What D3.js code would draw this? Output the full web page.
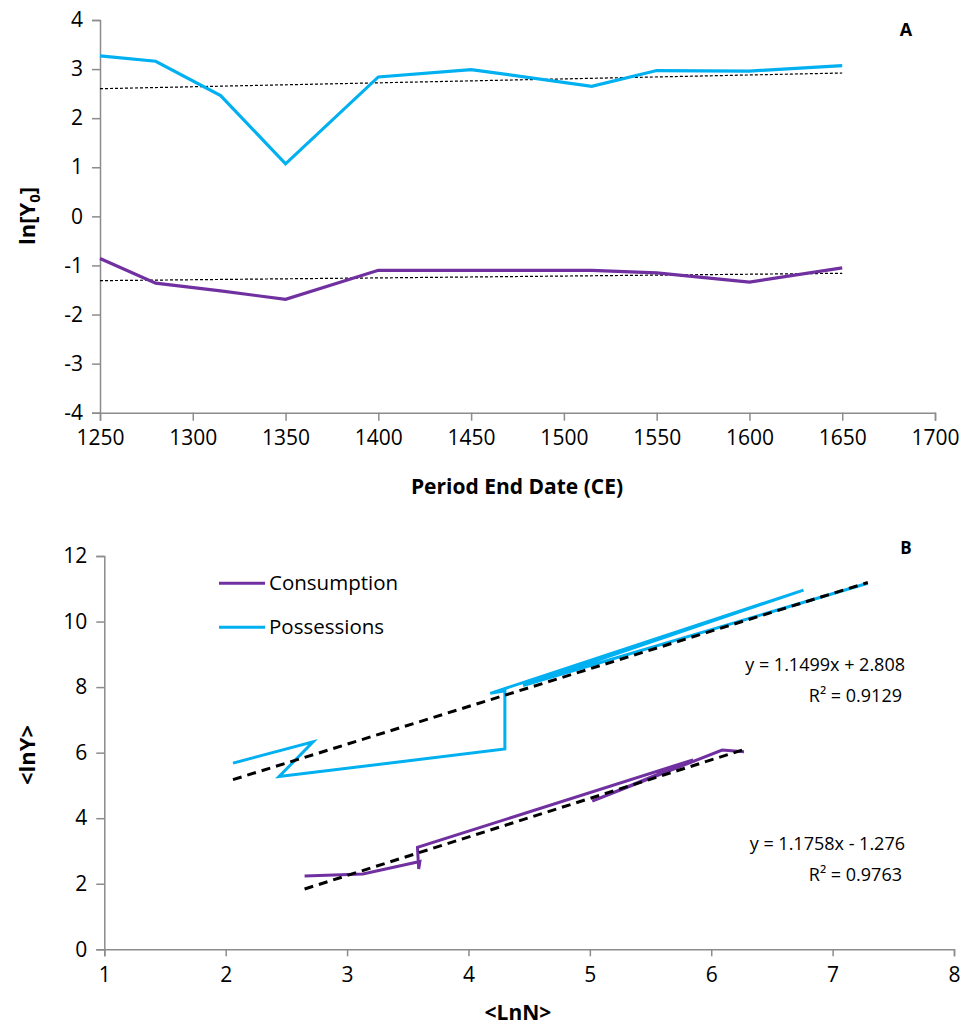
<!DOCTYPE html>
<html>
<head>
<meta charset="utf-8">
<script src="https://cdn.jsdelivr.net/npm/d3@7"></script>
<style>
  body { margin: 0; background: #fff; }
  text { font-family: "Open Sans", "Noto Sans", sans-serif; fill: #000; }
</style>
</head>
<body>
<script>
// Panel A: ln[Y0] by period end date
var yearsA = [1250, 1280, 1315, 1350, 1400, 1450, 1515, 1550, 1600, 1650];
var possessionsA = [3.27, 3.16, 2.46, 1.07, 2.84, 2.99, 2.65, 2.97, 2.96, 3.07];
var consumptionA = [-0.86, -1.36, -1.52, -1.69, -1.10, -1.10, -1.10, -1.15, -1.34, -1.05];
var trendYearsA = [1250, 1650];
var possTrendA = [2.60, 2.92];
var consTrendA = [-1.31, -1.16];
var xTicksA = [1250, 1300, 1350, 1400, 1450, 1500, 1550, 1600, 1650, 1700];
var yTicksA = [-4, -3, -2, -1, 0, 1, 2, 3, 4];

// Panel B: <lnY> vs <LnN>
var possLnN = [2.06, 2.72, 2.44, 4.30, 4.30, 4.18, 6.76, 4.45, 7.29];
var possLnY = [5.68, 6.33, 5.27, 6.11, 7.89, 7.81, 10.96, 8.05, 11.17];
var consLnN = [2.65, 3.13, 3.60, 3.59, 3.58, 5.85, 5.02, 6.09, 6.27];
var consLnY = [2.24, 2.30, 2.68, 2.45, 3.11, 5.78, 4.52, 6.08, 6.03];
var possFit = { slope: 1.1499, intercept: 2.808, r2: 0.9129 };
var consFit = { slope: 1.1758, intercept: -1.276, r2: 0.9763 };
var xTicksB = [1, 2, 3, 4, 5, 6, 7, 8];
var yTicksB = [0, 2, 4, 6, 8, 10, 12];
var seriesNames = ["Consumption", "Possessions"];

var blue = "#00B0F0", purple = "#7030A0", axisGrey = "#8c8c8c";
var plain = function(d) { return String(d); };

var svg = d3.select("body").append("svg")
  .attr("width", 961)
  .attr("height", 1030);

// ---------- Panel A ----------
var xA = d3.scaleLinear().domain([1250, 1700]).range([100, 935]);
var yA = d3.scaleLinear().domain([-4, 4]).range([412.7, 20]);

var axA = svg.append("g");
axA.append("g")
  .attr("transform", "translate(0," + yA(-4) + ")")
  .call(d3.axisBottom(xA).tickValues(xTicksA).tickSize(8).tickPadding(9).tickFormat(plain));
axA.append("g")
  .attr("transform", "translate(" + xA(1250) + ",0)")
  .call(d3.axisLeft(yA).tickValues(yTicksA).tickSize(8).tickPadding(9).tickFormat(plain));

var lineA = d3.line().x(function(d) { return xA(d[0]); }).y(function(d) { return yA(d[1]); });

svg.append("path")
  .attr("d", lineA(d3.zip(trendYearsA, possTrendA)))
  .attr("fill", "none").attr("stroke", "#000").attr("stroke-width", 1.2)
  .attr("stroke-dasharray", "3,2");
svg.append("path")
  .attr("d", lineA(d3.zip(trendYearsA, consTrendA)))
  .attr("fill", "none").attr("stroke", "#000").attr("stroke-width", 1.2)
  .attr("stroke-dasharray", "3,2");

svg.append("path")
  .attr("d", lineA(d3.zip(yearsA, possessionsA)))
  .attr("fill", "none").attr("stroke", blue).attr("stroke-width", 3.2);
svg.append("path")
  .attr("d", lineA(d3.zip(yearsA, consumptionA)))
  .attr("fill", "none").attr("stroke", purple).attr("stroke-width", 3.2);

svg.append("text")
  .attr("x", 517).attr("y", 494)
  .attr("text-anchor", "middle")
  .style("font-size", "21px").style("font-weight", "bold")
  .text("Period End Date (CE)");

var ylabA = svg.append("text")
  .attr("transform", "translate(35,216) rotate(-90)")
  .attr("text-anchor", "middle")
  .style("font-size", "22px").style("font-weight", "bold");
ylabA.append("tspan").text("ln[Y");
ylabA.append("tspan").attr("dy", 5).style("font-size", "15px").text("0");
ylabA.append("tspan").attr("dy", -5).text("]");

svg.append("text")
  .attr("x", 906).attr("y", 36)
  .attr("text-anchor", "middle")
  .style("font-size", "18px").style("font-weight", "bold")
  .text("A");

// ---------- Panel B ----------
var xB = d3.scaleLinear().domain([1, 8]).range([104.3, 954]);
var yB = d3.scaleLinear().domain([0, 12]).range([949.3, 556]);

var axB = svg.append("g");
axB.append("g")
  .attr("transform", "translate(0," + yB(0) + ")")
  .call(d3.axisBottom(xB).tickValues(xTicksB).tickSize(7).tickPadding(11).tickFormat(plain));
axB.append("g")
  .attr("transform", "translate(" + xB(1) + ",0)")
  .call(d3.axisLeft(yB).tickValues(yTicksB).tickSize(8).tickPadding(9).tickFormat(plain));

var lineB = d3.line().x(function(d) { return xB(d[0]); }).y(function(d) { return yB(d[1]); });

function fitPoints(fit, xs) {
  var ext = d3.extent(xs);
  return ext.map(function(x) { return [x, fit.slope * x + fit.intercept]; });
}

svg.append("path")
  .attr("d", lineB(d3.zip(possLnN, possLnY)))
  .attr("fill", "none").attr("stroke", blue).attr("stroke-width", 3)
  .attr("stroke-linejoin", "miter");
svg.append("path")
  .attr("d", lineB(d3.zip(consLnN, consLnY)))
  .attr("fill", "none").attr("stroke", purple).attr("stroke-width", 3)
  .attr("stroke-linejoin", "miter");

svg.append("path")
  .attr("d", lineB(fitPoints(possFit, possLnN)))
  .attr("fill", "none").attr("stroke", "#000").attr("stroke-width", 3)
  .attr("stroke-dasharray", "9,6");
svg.append("path")
  .attr("d", lineB(fitPoints(consFit, consLnN)))
  .attr("fill", "none").attr("stroke", "#000").attr("stroke-width", 3)
  .attr("stroke-dasharray", "9,6");

// fit labels
function fitLabel(fit, y) {
  var sign = fit.intercept < 0 ? " - " : " + ";
  svg.append("text")
    .attr("x", 905).attr("y", y)
    .attr("text-anchor", "end")
    .style("font-size", "18px")
    .text("y = " + fit.slope + "x" + sign + Math.abs(fit.intercept));
  svg.append("text")
    .attr("x", 902).attr("y", y + 31)
    .attr("text-anchor", "end")
    .style("font-size", "18px")
    .text("R\u00b2 = " + fit.r2);
}
fitLabel(possFit, 671);
fitLabel(consFit, 850);

// legend
var legColors = [purple, blue];
var leg = svg.append("g");
seriesNames.forEach(function(name, i) {
  var ly = 583.3 + i * 44;
  leg.append("line")
    .attr("x1", 219).attr("x2", 265).attr("y1", ly).attr("y2", ly)
    .attr("stroke", legColors[i]).attr("stroke-width", 3);
  leg.append("text")
    .attr("x", 269).attr("y", ly + 7)
    .style("font-size", "20.5px")
    .text(name);
});

svg.append("text")
  .attr("x", 518).attr("y", 1020)
  .attr("text-anchor", "middle")
  .style("font-size", "21px").style("font-weight", "bold")
  .text("<LnN>");

svg.append("text")
  .attr("transform", "translate(35,755) rotate(-90)")
  .attr("text-anchor", "middle")
  .style("font-size", "22px").style("font-weight", "bold")
  .text("<lnY>");

svg.append("text")
  .attr("x", 906).attr("y", 554)
  .attr("text-anchor", "middle")
  .style("font-size", "17px").style("font-weight", "bold")
  .text("B");

// axis styling
svg.selectAll(".domain").attr("stroke", axisGrey).attr("stroke-width", 1.5);
svg.selectAll(".tick line").attr("stroke", axisGrey).attr("stroke-width", 1.5);
svg.selectAll(".tick text")
  .style("font-family", "'Open Sans', 'Noto Sans', sans-serif")
  .style("font-size", "21px").attr("fill", "#000");
</script>
</body>
</html>
